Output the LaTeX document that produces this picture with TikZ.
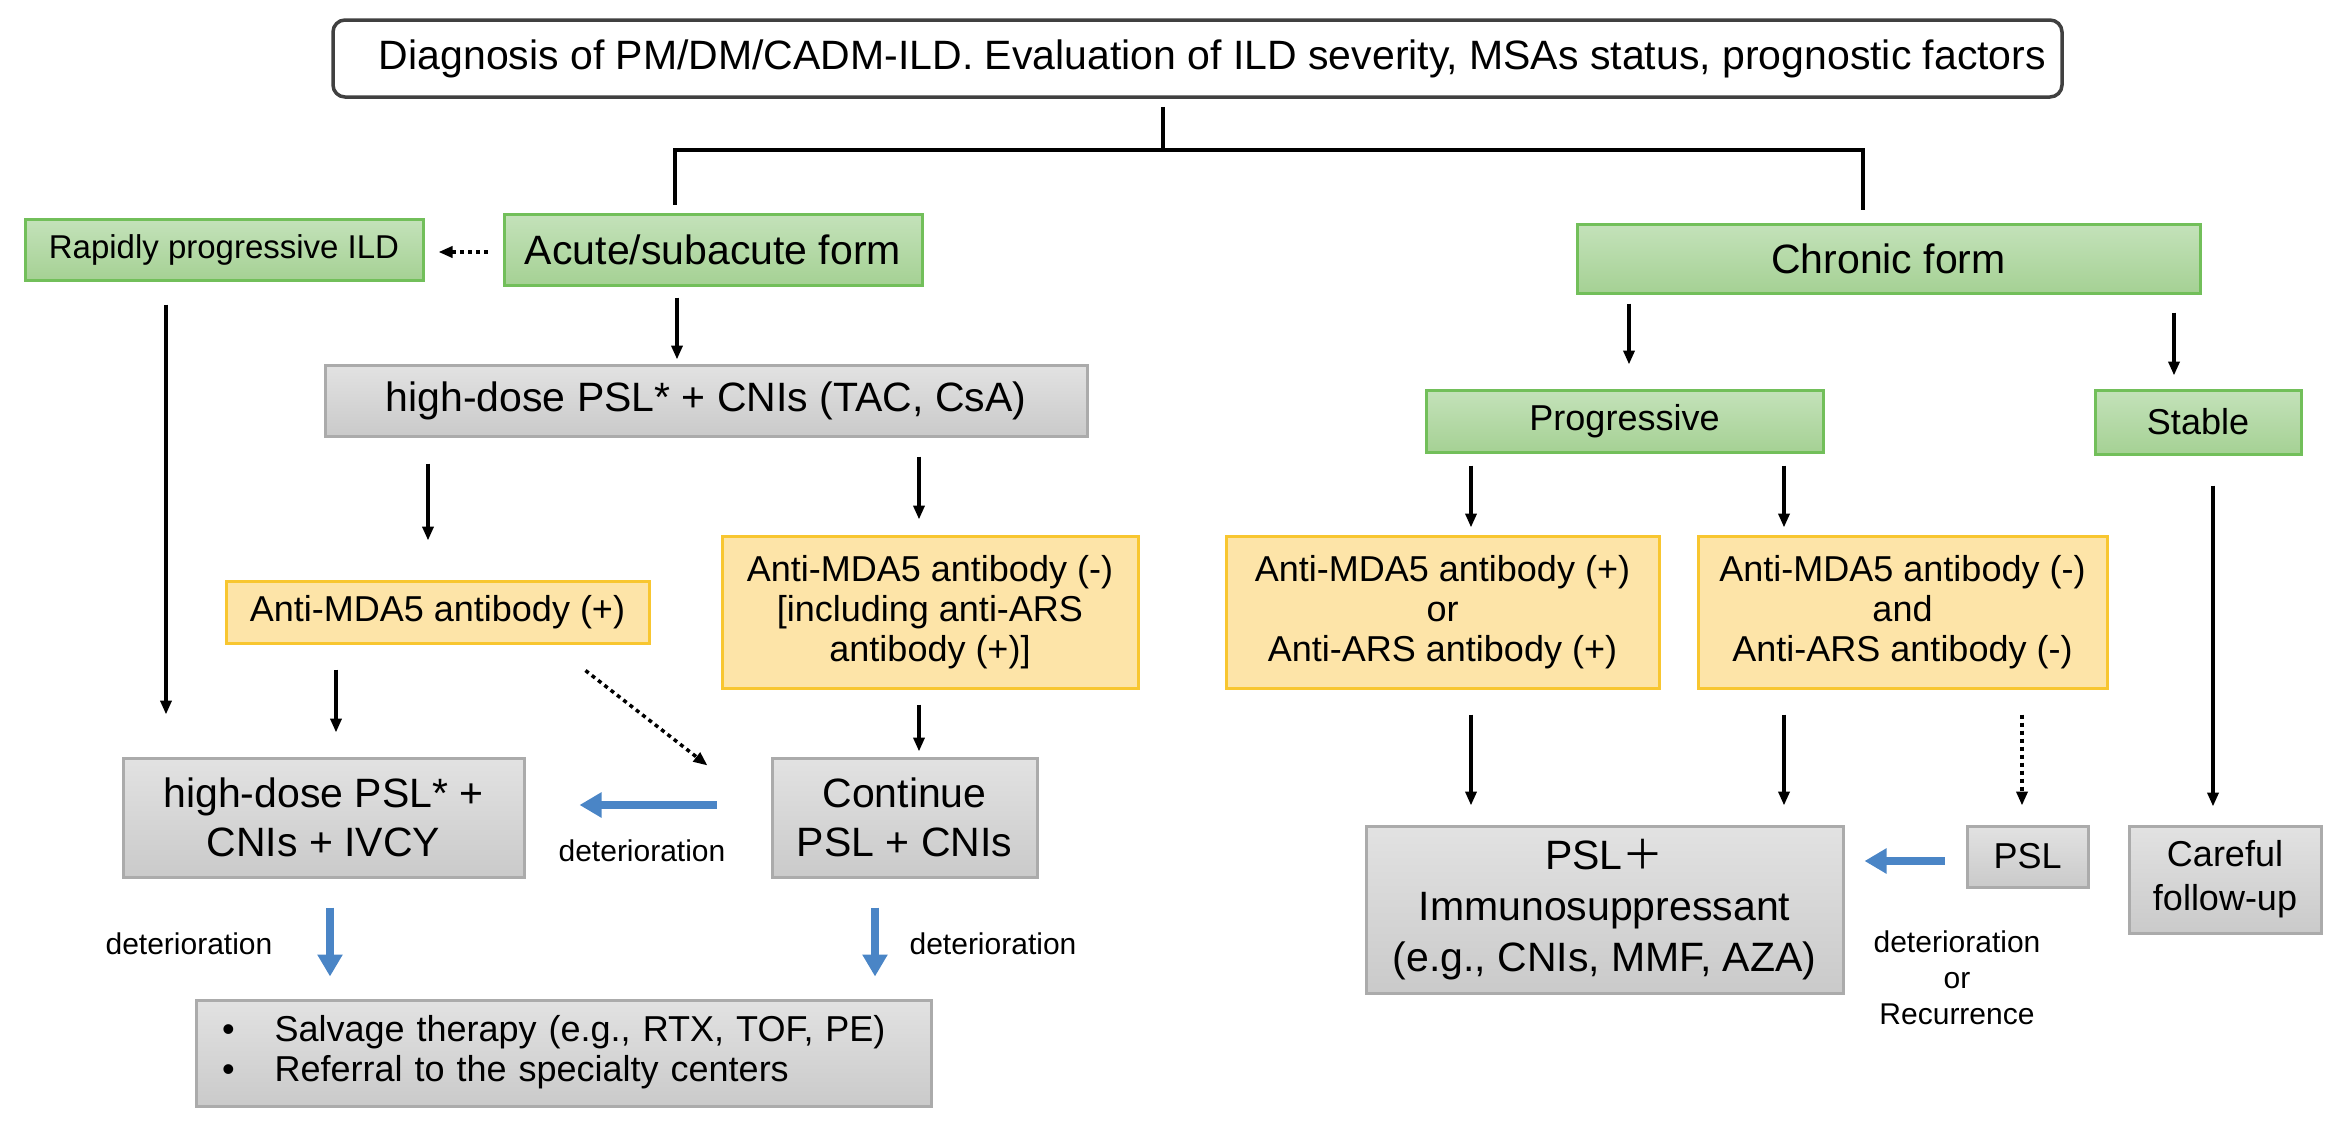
\documentclass[tikz,border=0pt]{standalone}
\usepackage{fontspec}
\setmainfont{Liberation Sans}
\newfontfamily\cjkfont{Noto Sans CJK SC}
\usetikzlibrary{arrows.meta,calc}
\definecolor{grnT}{HTML}{C4E2BA}
\definecolor{grnB}{HTML}{A5D194}
\definecolor{grnD}{HTML}{72BF5A}
\definecolor{ylwF}{HTML}{FDE4A8}
\definecolor{ylwD}{HTML}{F8C630}
\definecolor{gryT}{HTML}{E2E2E2}
\definecolor{gryB}{HTML}{CACACA}
\definecolor{gryD}{HTML}{ABABAB}
\definecolor{bluA}{HTML}{4A85C6}
\newcommand\fsz[2]{\fontsize{#1}{#2}\selectfont}
\begin{document}
\begin{tikzpicture}[x=1pt,y=-1pt,
  box/.style={draw, line width=3pt, inner sep=0pt, align=center, anchor=center},
  grnbox/.style={box, draw=grnD, top color=grnT, bottom color=grnB},
  ylwbox/.style={box, draw=ylwD, fill=ylwF},
  grybox/.style={box, draw=gryD, top color=gryT, bottom color=gryB},
  arr/.style={line width=3.5pt, -{Triangle[length=14pt,width=11pt]}},
  darr/.style={arr, dash pattern=on 4pt off 4pt},
  blarr/.style={draw=bluA, line width=8pt, -{Triangle[length=22pt,width=24pt]}},
  brk/.style={line width=4.5pt},
  lbl/.style={inner sep=0pt, align=center}]
\useasboundingbox (0,0) rectangle (2335,1130);
% top
\node[box, draw=black!75, line width=3.5pt, rounded corners=12pt, fill=white,
  minimum width=1729pt, minimum height=77pt, font=\fsz{41}{49}] (top) at (1197.5,58.5)
  {\hspace*{30pt}Diagnosis of PM/DM/CADM-ILD. Evaluation of ILD severity, MSAs status, prognostic factors};
% green
\node[grnbox, minimum width=398pt, minimum height=61pt, font=\fsz{33}{40}] (rapid) at (224,249.5) {Rapidly progressive ILD};
\node[grnbox, minimum width=418pt, minimum height=71pt, font=\fsz{41}{49}] (acute) at (713,249.5) {Acute/subacute form};
\node[grnbox, minimum width=623pt, minimum height=69pt, font=\fsz{41}{49}] (chronic) at (1888.5,258.5) {Chronic form};
\node[grnbox, minimum width=397pt, minimum height=62pt, font=\fsz{36}{43}] (prog) at (1624.5,421) {Progressive};
\node[grnbox, minimum width=206pt, minimum height=64pt, font=\fsz{36}{43}] (stable) at (2198,422) {Stable};
% gray
\node[grybox, minimum width=762pt, minimum height=71pt, font=\fsz{41}{49}] (hdA) at (706,400.5) {high-dose PSL* + CNIs (TAC, CsA)};
\node[grybox, minimum width=401pt, minimum height=119pt, font=\fsz{41}{49}] (hdB) at (323.5,817.5) {high-dose PSL* +\\CNIs + IVCY};
\node[grybox, minimum width=265pt, minimum height=119pt, font=\fsz{41}{49}] (cont) at (904.5,817.5) {Continue\\PSL + CNIs};
\node[grybox, text width=683pt, inner xsep=26pt, minimum height=106pt, align=left, font=\fsz{36}{40}] (salv) at (563.5,1053)
  {\begin{tabular}{@{}l@{\hspace{40pt}}l@{}}\textbullet & Salvage therapy (e.g., RTX, TOF, PE)\\ \textbullet & Referral to the specialty centers\end{tabular}};
\node[grybox, minimum width=477pt, minimum height=167pt, font=\fsz{41}{51}] (pslimm) at (1604.5,909.5) {PSL{\cjkfont ＋}\\Immunosuppressant\\(e.g., CNIs, MMF, AZA)};
\node[grybox, minimum width=121pt, minimum height=61pt, font=\fsz{36}{43}] (psl) at (2027.5,856.5) {PSL};
\node[grybox, minimum width=192pt, minimum height=107pt, font=\fsz{36}{44}] (careful) at (2225,879.5) {Careful\\follow-up};
% yellow
\node[ylwbox, minimum width=423pt, minimum height=62pt, font=\fsz{36}{43}] (mdaP) at (437.5,612) {Anti-MDA5 antibody (+)};
\node[ylwbox, minimum width=416pt, minimum height=152pt, font=\fsz{36}{40}] (mdaN) at (930,612) {Anti-MDA5 antibody (-)\\ {[}including anti-ARS\\antibody (+)]};
\node[ylwbox, minimum width=433pt, minimum height=152pt, font=\fsz{36}{40}] (orA) at (1442.5,612) {Anti-MDA5 antibody (+)\\or\\Anti-ARS antibody (+)};
\node[ylwbox, minimum width=409pt, minimum height=152pt, font=\fsz{36}{40}] (orB) at (1902.5,612) {Anti-MDA5 antibody (-)\\and\\Anti-ARS antibody (-)};
% labels
\node[lbl, font=\fsz{30}{36}] (detA) at (642,851) {deterioration};
\node[lbl, font=\fsz{30}{36}] (detB) at (189,944) {deterioration};
\node[lbl, font=\fsz{30}{36}] (detC) at (993,944) {deterioration};
\node[lbl, font=\fsz{30}{36}] (detD) at (1957,978) {deterioration\\or\\Recurrence};
% bracket
\coordinate (jn) at (1163,150);
\draw[brk, shorten <=8pt] (top.south -| jn) -- (jn);
\draw[brk, shorten <=8pt, shorten >=13pt] (acute.north -| 675,0) |- (jn) -| (chronic.north -| 1863,0);
% left side connectors
\draw[darr, shorten <=15pt, shorten >=14pt] (acute.west |- 0,252) -- (rapid.east |- 0,252);
\draw[arr, shorten <=11pt, shorten >=4pt] (acute.south -| 677,0) -- (hdA.north -| 677,0);
\draw[arr, shorten <=26pt, shorten >=39pt] (hdA.south -| 428,0) -- (mdaP.north -| 428,0);
\draw[arr, shorten <=19pt, shorten >=15pt] (hdA.south -| 919,0) -- (mdaN.north -| 919,0);
\draw[arr, shorten <=23pt, shorten >=42pt] (rapid.south -| 166,0) -- (hdB.north -| 166,0);
\draw[arr, shorten <=25pt, shorten >=24pt] (mdaP.south -| 336,0) -- (hdB.north -| 336,0);
\draw[darr] ([shift={(-65,26)}]mdaP.south east) -- ([shift={(-63,9)}]cont.north west);
\draw[arr, shorten <=15pt, shorten >=5pt] (mdaN.south -| 919,0) -- (cont.north -| 919,0);
\draw[blarr, shorten <=54pt, shorten >=54pt] (cont.west |- 0,805) -- (hdB.east |- 0,805);
\draw[blarr, shorten <=29pt, shorten >=22pt] (hdB.south -| 330,0) -- (salv.north -| 330,0);
\draw[blarr, shorten <=29pt, shorten >=22pt] (cont.south -| 875,0) -- (salv.north -| 875,0);
% right side connectors
\draw[arr, shorten <=9pt, shorten >=24pt] (chronic.south -| 1629,0) -- (prog.north -| 1629,0);
\draw[arr, shorten <=18pt, shorten >=13pt] (chronic.south -| 2174,0) -- (stable.north -| 2174,0);
\draw[arr, shorten <=12pt, shorten >=7pt] (prog.south -| 1471,0) -- (orA.north -| 1471,0);
\draw[arr, shorten <=12pt, shorten >=7pt] (prog.south -| 1784,0) -- (orB.north -| 1784,0);
\draw[arr, shorten <=25pt, shorten >=19pt] (orA.south -| 1471,0) -- (pslimm.north -| 1471,0);
\draw[arr, shorten <=25pt, shorten >=19pt] (orB.south -| 1784,0) -- (pslimm.north -| 1784,0);
\draw[darr, shorten <=25pt, shorten >=19pt] (orB.south -| 2022,0) -- (psl.north -| 2022,0);
\draw[arr, shorten <=30pt, shorten >=18pt] (stable.south -| 2213,0) -- (careful.north -| 2213,0);
\draw[blarr, shorten <=21pt, shorten >=20pt] (psl.west |- 0,861) -- (pslimm.east |- 0,861);
\end{tikzpicture}
\end{document}
